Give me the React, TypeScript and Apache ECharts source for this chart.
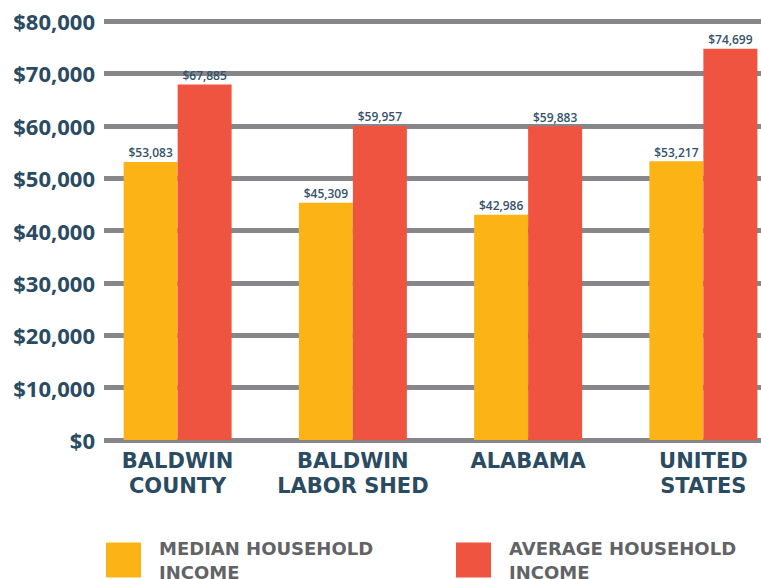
import React, { useEffect, useRef } from "react";
import * as echarts from "echarts";

const categories = ["BALDWIN\nCOUNTY", "BALDWIN\nLABOR SHED", "ALABAMA", "UNITED\nSTATES"];
const medianIncome = [53083, 45309, 42986, 53217];
const averageIncome = [67885, 59957, 59883, 74699];
const seriesNames = ["MEDIAN HOUSEHOLD\nINCOME", "AVERAGE HOUSEHOLD\nINCOME"];
const yMin = 0;
const yMax = 80000;
const yInterval = 10000;

const navy = "#2a4b61";
const yellow = "#fcb316";
const red = "#ef5441";
const gridGray = "#87878b";

const money = (v: number) => "$" + v.toLocaleString("en-US");

export default function App() {
  const ref = useRef<HTMLDivElement>(null);
  useEffect(() => {
    if (!ref.current) return;
    const chart = echarts.init(ref.current, null, { renderer: "svg" });
    const legendText = {
      fontFamily: "DejaVu Sans",
      fontWeight: "bold" as const,
      fontSize: 18,
      color: "#626366",
      lineHeight: 24,
      padding: [0, 0, 0, 13],
    };
    chart.setOption({
      animation: false,
      backgroundColor: "#ffffff",
      grid: [
        { left: 104, right: 0, top: 21, bottom: 139 },
        { left: 90, right: -30, top: 21, bottom: 139, outerBoundsMode: "none" },
      ],
      xAxis: [
        { type: "category", gridIndex: 0, data: categories, show: false },
        {
          type: "category",
          gridIndex: 1,
          data: categories,
          axisLine: { show: false },
          axisTick: { show: false },
          axisLabel: {
            margin: 8,
            fontFamily: "DejaVu Sans",
            fontWeight: "bold",
            fontSize: 21,
            lineHeight: 25,
            color: navy,
            interval: 0,
          },
        },
      ],
      yAxis: [
        {
          type: "value",
          gridIndex: 0,
          min: yMin,
          max: yMax,
          interval: yInterval,
          axisLine: { show: false },
          axisTick: { show: false },
          splitLine: { show: true, lineStyle: { color: gridGray, width: 5 } },
          axisLabel: {
            margin: 9,
            formatter: (v: number) => money(v),
            fontFamily: "Open Sans",
            fontWeight: "bold",
            fontSize: 22,
            color: navy,
          },
        },
        {
          type: "value",
          gridIndex: 1,
          min: yMin,
          max: yMax,
          interval: yInterval,
          show: false,
          splitLine: { show: false },
        },
      ],
      legend: [
        {
          data: [seriesNames[0]],
          left: 106,
          top: 536,
          padding: 0,
          itemWidth: 35,
          itemHeight: 35,
          icon: "rect",
          selectedMode: false,
          textStyle: legendText,
        },
        {
          data: [seriesNames[1]],
          left: 456,
          top: 536,
          padding: 0,
          itemWidth: 35,
          itemHeight: 35,
          icon: "rect",
          selectedMode: false,
          textStyle: legendText,
        },
      ],
      series: [
        {
          name: seriesNames[0],
          type: "bar",
          xAxisIndex: 1,
          yAxisIndex: 1,
          data: medianIncome,
          barWidth: 54,
          barGap: "0%",
          itemStyle: { color: yellow },
          label: {
            show: true,
            position: "top",
            distance: 3,
            formatter: (p: any) => money(p.value),
            fontFamily: "Open Sans",
            fontWeight: 600,
            fontSize: 12,
            color: "#34526a",
          },
        },
        {
          name: seriesNames[1],
          type: "bar",
          xAxisIndex: 1,
          yAxisIndex: 1,
          data: averageIncome,
          barWidth: 54,
          barGap: "0%",
          itemStyle: { color: red },
          label: {
            show: true,
            position: "top",
            distance: 3,
            formatter: (p: any) => money(p.value),
            fontFamily: "Open Sans",
            fontWeight: 600,
            fontSize: 12,
            color: "#34526a",
          },
        },
      ],
    });
    return () => chart.dispose();
  }, []);
  return (
    <div
      ref={ref}
      style={{ position: "fixed", left: 0, top: 0, width: 761, height: 579 }}
    />
  );
}
